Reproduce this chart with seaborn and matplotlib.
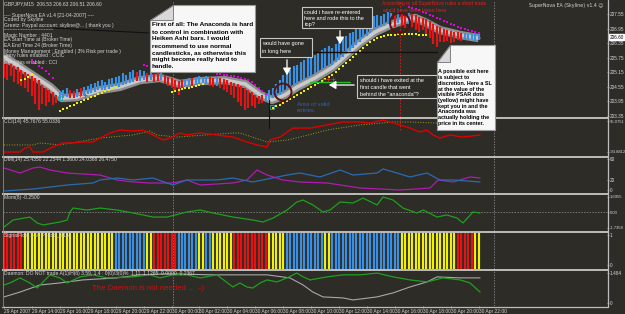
import matplotlib
matplotlib.use("Agg")
import matplotlib.pyplot as plt
import matplotlib.transforms as mtrans
from matplotlib.patches import Rectangle, Circle, Polygon
import seaborn as sns

# ---------------- data ----------------
bar_index = list(range(137))
ha_high = [205.57,205.53,205.53,205.41,205.37,205.25,205.16,205.08,205.00,204.92,204.83,
           204.63,204.50,204.42,204.34,204.22,204.34,204.42,204.50,204.42,204.38,
           204.46,204.50,204.55,204.59,204.67,204.71,204.79,204.83,204.75,204.88,
           204.92,204.96,205.00,
           205.12,205.04,205.16,205.25,205.16,205.25,205.20,205.12,205.16,205.08,
           205.12,205.16,205.04,204.96,204.92,204.83,204.79,204.83,204.88,204.92,
           204.92,204.96,205.00,
           204.96,205.00,204.96,204.92,204.96,204.92,204.88,204.83,204.75,204.71,
           204.67,204.59,204.50,204.42,204.34,204.22,204.17,204.22,204.26,204.42,
           204.50,204.67,204.83,
           205.04,205.16,205.25,205.41,205.45,205.57,205.66,205.74,205.82,205.86,
           205.99,206.07,206.15,206.23,206.15,206.32,206.40,206.56,206.65,206.77,
           206.81,206.98,207.06,
           207.22,207.31,207.39,207.47,207.51,207.47,207.55,207.64,207.59,207.55,
           207.64,207.55,207.51,207.59,207.55,207.51,207.43,207.39,207.35,207.26,
           207.14,207.06,207.02,
           206.94,206.89,206.85,206.81,206.81,206.77,206.77,206.73,206.77,206.73,206.73]
ha_low = [204.92,204.83,205.00,204.75,204.67,204.59,204.50,204.34,204.17,203.84,203.60,
          203.84,203.76,203.93,203.80,203.89,204.05,204.09,204.13,204.09,204.09,
          204.13,204.17,204.22,204.26,204.30,204.34,204.42,204.42,204.42,204.46,
          204.50,204.50,204.55,
          204.63,204.67,204.71,204.75,204.79,204.79,204.83,204.75,204.83,204.75,
          204.79,204.83,204.67,204.59,204.50,204.34,204.22,204.42,204.55,204.59,
          204.55,204.63,204.67,
          204.63,204.67,204.59,204.55,204.59,204.50,204.42,204.34,204.22,204.09,
          203.93,203.76,203.60,203.68,203.76,203.68,203.84,203.89,203.93,204.01,
          204.09,204.13,204.22,
          204.34,204.42,204.50,204.59,204.67,204.75,204.83,204.92,205.00,205.08,
          205.16,205.25,205.33,205.41,205.45,205.57,205.66,205.78,205.90,206.03,
          206.15,206.28,206.40,
          206.56,206.65,206.77,206.89,206.98,207.02,207.06,207.14,207.14,207.02,
          207.18,207.06,206.98,207.14,207.02,206.89,206.81,206.89,206.73,206.56,
          206.32,206.19,206.40,
          206.40,206.44,206.36,206.40,206.48,206.44,206.48,206.48,206.52,206.44,206.48]
ha_color = ("R"*16 + "B"*3 + "R"*2 + "B" + "R" + "B"*15 + "R" + "B"*2 + "R" + "B"
            + "R"*2 + "B" + "R"*6 + "B"*2 + "R" + "B"*4 + "R"*2 + "B" + "R"*13
            + "B"*37 + "R" + "B" + "R"*2 + "B" + "R"*15 + "B"*5)

band_x = [0, 4.6, 13.2, 16.6, 20.9, 27.5, 33.2, 39.0, 44.7, 50.4, 56.2, 63.3, 69.1, 73.4, 76.8,
          80.5, 84.0, 89.1, 94.3, 99.1, 102.0, 106.3, 110.6, 114.9, 117.8, 120.6, 124.9, 130.7, 136.0]
band_price = [205.78, 205.37, 204.55, 204.09, 204.13, 204.42, 204.55, 204.83, 204.92, 204.67,
              204.79, 204.83, 204.67, 204.22, 204.01, 204.22, 204.55, 204.92, 205.37, 205.99,
              206.36, 206.81, 207.10, 207.31, 207.39, 207.22, 206.89, 206.69, 206.56]

psar_mag_x = [8,9,10,11,12,13,14, 40,41,42,43,44,45,46,47,
              61,62,63,64,65,66,67,68,69,70,71,72,73,74,75] + list(range(116, 137))
psar_mag = [205.66,205.53,205.41,205.33,205.20,205.08,204.92,
            205.45,205.41,205.37,205.33,205.29,205.25,205.20,205.16,
            205.08,205.08,205.04,205.04,205.00,205.00,204.96,204.92,204.88,204.83,204.75,204.63,204.50,204.38,204.26,
            207.84,207.80,207.76,207.72,207.64,207.59,207.51,207.47,207.39,207.35,207.26,207.22,207.14,207.10,
            207.02,206.98,206.94,206.89,206.85,206.81,206.77]
psar_yel_x = [5,6,7,8] + list(range(16, 33)) + list(range(48, 58)) + list(range(77, 122))
psar_yel = [204.83,204.88,204.96,205.08,
            203.56,203.64,203.68,203.76,203.80,203.89,203.93,204.01,204.05,204.13,204.17,204.26,204.30,204.38,204.42,204.50,204.55,
            204.34,204.38,204.42,204.46,204.50,204.50,204.55,204.59,204.63,204.67,
            203.68,203.76,203.80,203.89,203.97,204.05,204.13,204.22,204.30,204.38,204.46,204.55,204.63,204.71,204.79,
            204.88,204.96,205.04,205.16,205.29,205.41,205.53,205.66,205.78,205.90,206.03,206.15,206.28,206.40,206.48,
            206.56,206.61,206.65,206.69,
            206.69,206.69,206.73,206.73,206.73,206.73,206.73,206.73,206.69,206.69,206.69]
plus_x = [21.8, 23.2, 91.4, 92.8, 94.3]
plus_y = [204.22, 204.22, 204.88, 204.88, 204.88]
mark_x = [16.0, 76.8]
mark_y = [204.09, 203.72]
last_price = 206.60

cci_x = [0,4.6,6.0,7.4,8.3,11.2,14.0,16.9,19.8,21.8,25.5,27.5,30.4,33.2,37.0,39.8,42.7,45.6,47.6,50.4,
         52.4,56.2,61.0,65.6,69.6,72.5,75.4,76.2,79.1,82.8,87.7,92.6,97.1,102.0,104.9,108.6,113.5,116.3,
         119.2,121.2,122.9,124.9,127.8,131.5,136.4]
cci = [-94,-94,-70,-63,-94,-94,-63,-39,-39,-33,-33,-9,22,40,34,40,10,-21,-9,22,10,22,10,-3,-33,
       -51,-63,-20,-3,52,52,71,89,89,83,101,71,52,28,40,10,-9,10,-3,10]
cci_sig_x = [0,8.3,10.3,16.0,27.5,37.0,41.8,43.8,49.6,65.6,67.6,75.4,81.1,84.8,92.6,102.0,111.5,116.3,124.1,133.5]
cci_sig = [-51,-51,-39,-51,-9,10,34,10,-3,22,22,-33,-21,-3,40,71,89,89,83,83]

dmi_a_x = [0,4.6,8.3,10.3,13.2,18.1,27.5,32.4,37.0,41.8,48.4,52.4,56.2,65.6,69.6,72.5,75.4,79.9,84.8,
           92.6,102.0,113.5,122.1,124.4,128.7,133.5,136.4]
dmi_a = [42.6,32.9,42.6,44.5,38.7,32.9,29.0,19.4,15.5,13.6,13.6,19.4,9.7,13.6,19.4,38.7,29.0,19.4,15.5,
         13.6,3.9,0.0,3.9,19.4,15.5,25.2,23.2]
dmi_b_x = [0,8.3,18.1,25.5,27.5,32.4,37.0,42.7,46.7,48.4,52.4,61.0,65.6,71.3,81.1,84.8,90.5,96.3,100.0,
           106.9,108.6,112.6,116.3,121.2,124.9,128.7,136.4]
dmi_b = [-1.9,1.9,9.7,13.6,19.4,23.2,19.4,23.2,13.6,9.7,19.4,19.4,23.2,15.5,29.0,32.9,25.2,38.7,29.0,
         32.9,40.7,32.9,25.2,32.9,19.4,19.4,15.5]

mom_x = [0,2.6,7.4,9.5,11.2,16.0,18.1,18.9,19.8,23.8,27.5,32.4,37.0,42.7,46.7,52.4,56.2,59.9,65.6,71.3,
         74.2,77.1,81.1,83.9,85.7,88.5,91.4,93.4,96.3,100.0,102.9,106.9,108.6,111.5,114.3,118.3,120.1,
         124.1,126.9,129.8,131.5,134.4,136.4]
mom = [-1.67,-0.89,-0.56,-1.22,-1.44,-1.11,-0.89,0,0.44,0.22,0.44,0.22,-0.11,-0.56,-0.56,0,0.22,-0.11,
       -0.56,-0.89,-1.11,-0.67,0.22,1.11,1.33,0.78,0,0.22,1.11,1.0,1.55,0.78,1.67,1.33,0.44,-0.11,0.22,
       -0.56,-0.33,-0.67,-1.22,0,-0.11]

signal_codes = ("R"*6 + "Y"*26 + "B"*9 + "Y"*2 + "R"*7 + "B"*6 + "Y"*2 + "B"*2 + "Y"*6 + "R"*10
                + "Y"*5 + "B"*11 + "Y"*2 + "B"*20 + "Y"*16 + "R"*5 + "Y"*2)

daemon_g_x = [0,1.7,4.6,7.4,9.5,11.2,13.2,16.0,18.1,21.8,25.5,29.5,37.0,41.8,44.7,48.4,52.4,56.2,61.0,
              65.6,67.6,69.6,71.3,73.4,75.4,78.2,81.1,83.9,85.7,87.7,92.6,97.1,102.0,106.9,111.5,116.3,
              121.2,125.8,130.7,133.5,136.4]
daemon_g = [0.89,0.99,1.24,0.99,0.74,1.04,1.39,1.24,0.99,1.29,1.39,1.24,1.29,1.39,1.24,1.39,1.39,1.24,
            1.39,0.79,0.99,0.79,0.74,0.99,1.14,1.04,1.24,1.48,1.29,1.14,1.29,1.39,1.39,1.48,1.29,1.14,
            1.04,1.24,1.14,0.99,0.54]
daemon_w_x = [0,4.6,10.3,16.0,22.6,32.4,39.0,46.7,59.9,75.4,81.9,85.7,88.5,91.4,97.1,100.0,106.9,111.5,
              116.3,121.2,124.1,130.7,136.4]
daemon_w = [0.30,0.54,0.89,0.99,1.14,1.24,1.39,1.44,1.39,1.39,1.24,0.89,0.54,0.30,0.25,0.15,0.30,0.50,
            0.79,1.04,1.29,1.24,1.24]

time_ticks = [0, 8, 16, 24, 32, 40, 48, 56, 64, 72, 80, 88, 96, 104, 112, 120, 128, 136]
time_labels = ["29 Apr 2007", "29 Apr 14:00", "29 Apr 16:00", "29 Apr 18:00", "29 Apr 20:00",
               "29 Apr 22:00", "30 Apr 00:00", "30 Apr 02:00", "30 Apr 04:00", "30 Apr 06:00",
               "30 Apr 08:00", "30 Apr 10:00", "30 Apr 12:00", "30 Apr 14:00", "30 Apr 16:00",
               "30 Apr 18:00", "30 Apr 20:00", "30 Apr 22:00"]
day_sep = [48.5, 140.5]
entry_line = 113.5

price_ticks = [207.55, 206.95, 206.35, 205.75, 205.15, 204.55, 203.95, 203.35]
cci_ticks = [95.0751, -93.8812]
dmi_ticks = [60, 20, 0]
mom_ticks = [1.6955, 0.0, -1.7358]
mom_labels = ["1.6955", "0.00", "-1.7358"]
sig_ticks = [1, 0]
dae_ticks = [1.484, 0]

# ---------------- style ----------------
sns.set_theme(style="dark")
NARROW = ['Liberation Sans Narrow', 'Liberation Sans', 'DejaVu Sans']
plt.rcParams['font.family'] = NARROW
BG = '#2d2c27'
TXT = '#d6d6d6'
COL = {'R': '#e41414', 'B': '#3b8fe0', 'Y': '#f0f00c'}

W, H = 625, 314
fig = plt.figure(figsize=(6.25, 3.14), dpi=100)
fig.patch.set_facecolor(BG)


def rect(x0, y0, x1, y1):
    return [x0 / W, 1 - y1 / H, (x1 - x0) / W, (y1 - y0) / H]


X0, X1 = (3 - 4) / 3.49, (607 - 4) / 3.49


def panel(y0, y1, ylim, lsize=3.4):
    ax = fig.add_axes(rect(3, y0, 607, y1))
    ax.set_facecolor(BG)
    for s in ax.spines.values():
        s.set_visible(False)
    ax.set_xlim(X0, X1)
    ax.set_ylim(*ylim)
    ax.grid(False)
    ax.tick_params(axis='x', bottom=False, labelbottom=False)
    ax.yaxis.tick_right()
    ax.tick_params(axis='y', right=True, left=False, length=1.2, width=0.5, color='#bbbbbb',
                   labelsize=lsize, labelcolor=TXT, pad=0.8)
    for d in day_sep:
        ax.axvline(d, color='#9a9a9a', lw=0.5, ls=(0, (2, 2)), zorder=0.5)
    ax.set_xlabel('')
    ax.set_ylabel('')
    return ax


# ---- main price panel ----
ax = panel(1, 117, (203.31, 208.09))
ax.axvline(entry_line, color='#e02020', lw=0.6, ls=(0, (2, 2)), zorder=0.6)
sns.lineplot(x=band_x, y=band_price, ax=ax, color='#8e8e8e', lw=6.0, estimator=None, sort=False,
             legend=False, zorder=1, solid_capstyle='butt')
sns.lineplot(x=band_x, y=band_price, ax=ax, color='#cacaca', lw=2.6, estimator=None, sort=False,
             legend=False, zorder=1.1)
ax.vlines(bar_index, ha_low, ha_high, colors=[COL[c] for c in ha_color], lw=1.55, zorder=2)
sns.scatterplot(x=psar_mag_x, y=psar_mag, ax=ax, color='#e000e0', marker='s', s=2.2, linewidth=0,
                zorder=3, legend=False)
sns.scatterplot(x=psar_yel_x, y=psar_yel, ax=ax, color='#f0f000', marker='s', s=2.2, linewidth=0,
                zorder=3, legend=False)
ax.scatter(plus_x, plus_y, marker='+', s=6, color='#ff2020', linewidths=0.6, zorder=3)
ax.scatter(mark_x, mark_y, marker='s', s=9, facecolors='none', edgecolors='#30a8a8',
           linewidths=0.6, zorder=3)
ax.set_yticks(price_ticks)
ax.set_yticklabels([f"{v:.2f}" for v in price_ticks])
ax.text(1.004, last_price, f"{last_price:.2f}",
        transform=mtrans.blended_transform_factory(ax.transAxes, ax.transData),
        fontsize=3.4, color='black', va='center', ha='left',
        bbox=dict(boxstyle='square,pad=0.12', fc='white', ec='white'))

# ---- CCI ----
ax = panel(118, 156, (-118.3, 113.4), lsize=3.0)
ax.axvline(entry_line, ymin=0.683, ymax=1, color='#e02020', lw=0.6, ls=(0, (2, 2)))
sns.lineplot(x=cci_sig_x, y=cci_sig, ax=ax, color='#a0a020', lw=0.7, linestyle=':', estimator=None,
             sort=False, legend=False)
sns.lineplot(x=cci_x, y=cci, ax=ax, color='#e00000', lw=1.0, estimator=None, sort=False, legend=False)
ax.set_yticks(cci_ticks)
ax.set_yticklabels(["95.0751", "-93.8812"])

# ---- DMI ----
ax = panel(157, 193, (-5.8, 63.9))
sns.lineplot(x=dmi_a_x, y=dmi_a, ax=ax, color='#b01cb0', lw=0.9, estimator=None, sort=False, legend=False)
sns.lineplot(x=dmi_b_x, y=dmi_b, ax=ax, color='#2a6cb0', lw=0.9, estimator=None, sort=False, legend=False)
ax.set_yticks(dmi_ticks)
ax.set_yticklabels([str(v) for v in dmi_ticks])

# ---- Momentum ----
ax = panel(194, 231, (-2.11, 2.0), lsize=3.0)
ax.axhline(0, color='#9a9a9a', lw=0.5, ls=(0, (2, 2)))
sns.lineplot(x=mom_x, y=mom, ax=ax, color='#1ea01e', lw=0.9, estimator=None, sort=False, legend=False)
ax.set_yticks(mom_ticks)
ax.set_yticklabels(mom_labels)

# ---- Signal stripes ----
ax = panel(232, 269, (-0.133, 1.1))
ax.vlines(bar_index, -0.133, 1.1, colors=[COL[c] for c in signal_codes], lw=1.55)
ax.set_yticks(sig_ticks)
ax.set_yticklabels(["1", "0"])

# ---- Daemon ----
ax = panel(270, 306, (-0.15, 1.63))
sns.lineplot(x=daemon_w_x, y=daemon_w, ax=ax, color='#a8a8a8', lw=0.8, estimator=None, sort=False, legend=False)
sns.lineplot(x=daemon_g_x, y=daemon_g, ax=ax, color='#1ea01e', lw=0.9, estimator=None, sort=False, legend=False)
ax.set_yticks(dae_ticks)
ax.set_yticklabels(["1.484", "0"])
ax.set_xticks(time_ticks)
ax.set_xticklabels(time_labels)
ax.tick_params(axis='x', bottom=True, labelbottom=True, length=1.5, width=0.5, color='#bbbbbb',
               labelsize=3.5, labelcolor=TXT, pad=1.0)
for lab in ax.get_xticklabels():
    lab.set_horizontalalignment('left')

# ---------------- overlay (annotations, frame) ----------------
ov = fig.add_axes([0, 0, 1, 1])
ov.set_xlim(0, W)
ov.set_ylim(H, 0)
ov.axis('off')
ov.patch.set_alpha(0)

for yy in [117.5, 156.5, 193.5, 231.5, 269.5]:
    ov.plot([2, 607.5], [yy, yy], color='#bdbdbd', lw=1.4, solid_capstyle='butt')
ov.plot([2, 607.5], [306.5, 306.5], color='#bdbdbd', lw=0.9)
ov.plot([607.5, 607.5], [0, 306.5], color='#bdbdbd', lw=0.9)
ov.plot([2.5, 2.5], [0, 306.5], color='#8a8a8a', lw=0.6)


def t(x, y, s, size=3.6, color=TXT, **kw):
    kw.setdefault('ha', 'left')
    ov.text(x, y, s, fontsize=size, color=color, va='center', **kw)


# header text
hdr = [(4, "GBPJPY,M15  206.53 206.63 206.51 206.60"),
       (15, "---- SuperNova EA v1.4 [21-04-2007] ----"),
       (20, "Coded by Skyline"),
       (25, "Greetz: Paypal account: skyline@... ( thank you )"),
       (30, "-------------------------------"),
       (35, "Magic Number : 4401"),
       (40, "EA Start Time at (Broker Time)"),
       (45, "EA End Time 24 (Broker Time)"),
       (51, "Money Management : Enabled ( 3% Risk per trade )"),
       (56, "Entry rules enabled : CCIC"),
       (62, "Exit rules enabled : CCI")]
for yy, s in hdr:
    t(4, yy, s)
t(603, 5, "SuperNova EA (Skyline) v1.4 \u263a", size=3.4, ha='right',
  family=['Liberation Sans Narrow', 'DejaVu Sans'])
t(4, 122, "CCI(14) 45.7676 55.0336")
t(4, 160, "DMI(14) 25.4350 22.2544 1.3600 24.0368 26.4750")
t(4, 198, "Mom(8) -0.2500")
t(4, 236, "SignalFlow 1-10 Period_M15")
t(4, 274, "Daemon: DO NOT trade A(1)/H(6) 3.59, 1.4 : 0(0)/3(0)%  1.11  1.1265  0.0000  0.2367")
t(92, 288, "The Daemon is not needed ... :-)", size=5.6, color='#d01010')

# black guide lines
ov.plot([149, 53], [33, 28], color='#111111', lw=0.8)
ov.plot([300, 437], [52, 52], color='#111111', lw=1.0)
ov.plot([269, 269], [100, 128], color='#111111', lw=0.8)
ov.plot([310, 350], [82, 82], color='#20c020', lw=1.0)

# circles
ov.add_patch(Circle((283, 92), 8.5, fill=False, ec='#5c1010', lw=1.4))
ov.add_patch(Circle((400, 23), 10, fill=False, ec='#5c1010', lw=1.4))

# note 1
ov.add_patch(Polygon([(173, 5), (255, 5), (255, 72), (150, 72), (150, 20)], closed=True,
                     fc='#f7f7f7', ec='#9a9a9a', lw=0.8, zorder=5))
ov.add_patch(Polygon([(150, 20), (173, 20), (173, 5)], closed=True, fc='#d8d8d8', ec='#707070',
                     lw=0.6, zorder=5.1))
note1 = ["First of all: The Anaconda is hard", "to control in combination with",
         "Heiken Ashi bars. I would", "recommend to use normal",
         "candlesticks, as otherwise this", "might become really hard to", "handle."]
for i, s in enumerate(note1):
    ov.text(152, 25 + 7 * i, s, fontsize=4.6, color='black', fontweight='bold',
            va='center', ha='left', zorder=6)

# note 2 (right)
ov.add_patch(Polygon([(450, 45), (495, 45), (495, 130), (437, 130), (437, 62)], closed=True,
                     fc='#f7f7f7', ec='#9a9a9a', lw=0.8, zorder=5))
ov.add_patch(Polygon([(437, 62), (450, 62), (450, 45)], closed=True, fc='#d8d8d8', ec='#707070',
                     lw=0.6, zorder=5.1))
note2 = ["A possible exit here", "is subject to", "discretion. Here a SL", "at the value of the",
         "visible PSAR dots", "(yellow) might have", "kept you in and the", "Anaconda was",
         "actually holding the", "price in its center."]
for i, s in enumerate(note2):
    ov.text(438.5, 72 + 5.7 * i, s, fontsize=3.9, color='black', fontweight='bold',
            va='center', ha='left', zorder=6)

# question boxes
boxes = [((260, 38, 312, 57), ["would have gone", "in long here"], 44, 7),
         ((302, 7, 372, 28), ["could i have re-entered", "here and rode this to the", "top?"], 13, 5.8),
         ((357, 75, 437, 98), ["should i have exited at the", "first candle that went",
                               "behind the \"anaconda\"?"], 81, 6.5)]
for (x0, y0, x1, y1), lines, ystart, dy in boxes:
    ov.add_patch(Rectangle((x0, y0), x1 - x0, y1 - y0, fc=BG, ec='#c8c8c8', lw=0.8, zorder=4))
    for i, s in enumerate(lines):
        ov.text(x0 + 2.5, ystart + dy * i, s, fontsize=4.0, color='white',
                va='center', ha='left', zorder=4.5)

arrow = dict(arrowstyle='-|>,head_length=0.35,head_width=0.2', color='white', lw=0.9)
ov.annotate('', xy=(287, 78), xytext=(287, 57), arrowprops=arrow, zorder=4)
ov.annotate('', xy=(340, 47), xytext=(340, 28), arrowprops=arrow, zorder=4)
ov.annotate('', xy=(326, 85), xytext=(357, 85), arrowprops=arrow, zorder=4)

ov.text(297, 104, "Area of valid", fontsize=4.2, color='#2e62b8', va='center', ha='left')
ov.text(297, 111, "entries.", fontsize=4.2, color='#2e62b8', va='center', ha='left')
ov.text(382, 4, "According to all SuperNova rules a short trade", fontsize=3.6, color='#e02020',
        va='center', ha='left')
ov.text(382, 10, "would have been taken here", fontsize=3.6, color='#e02020', va='center', ha='left')

fig.savefig('out.png', dpi=100, facecolor=BG)
